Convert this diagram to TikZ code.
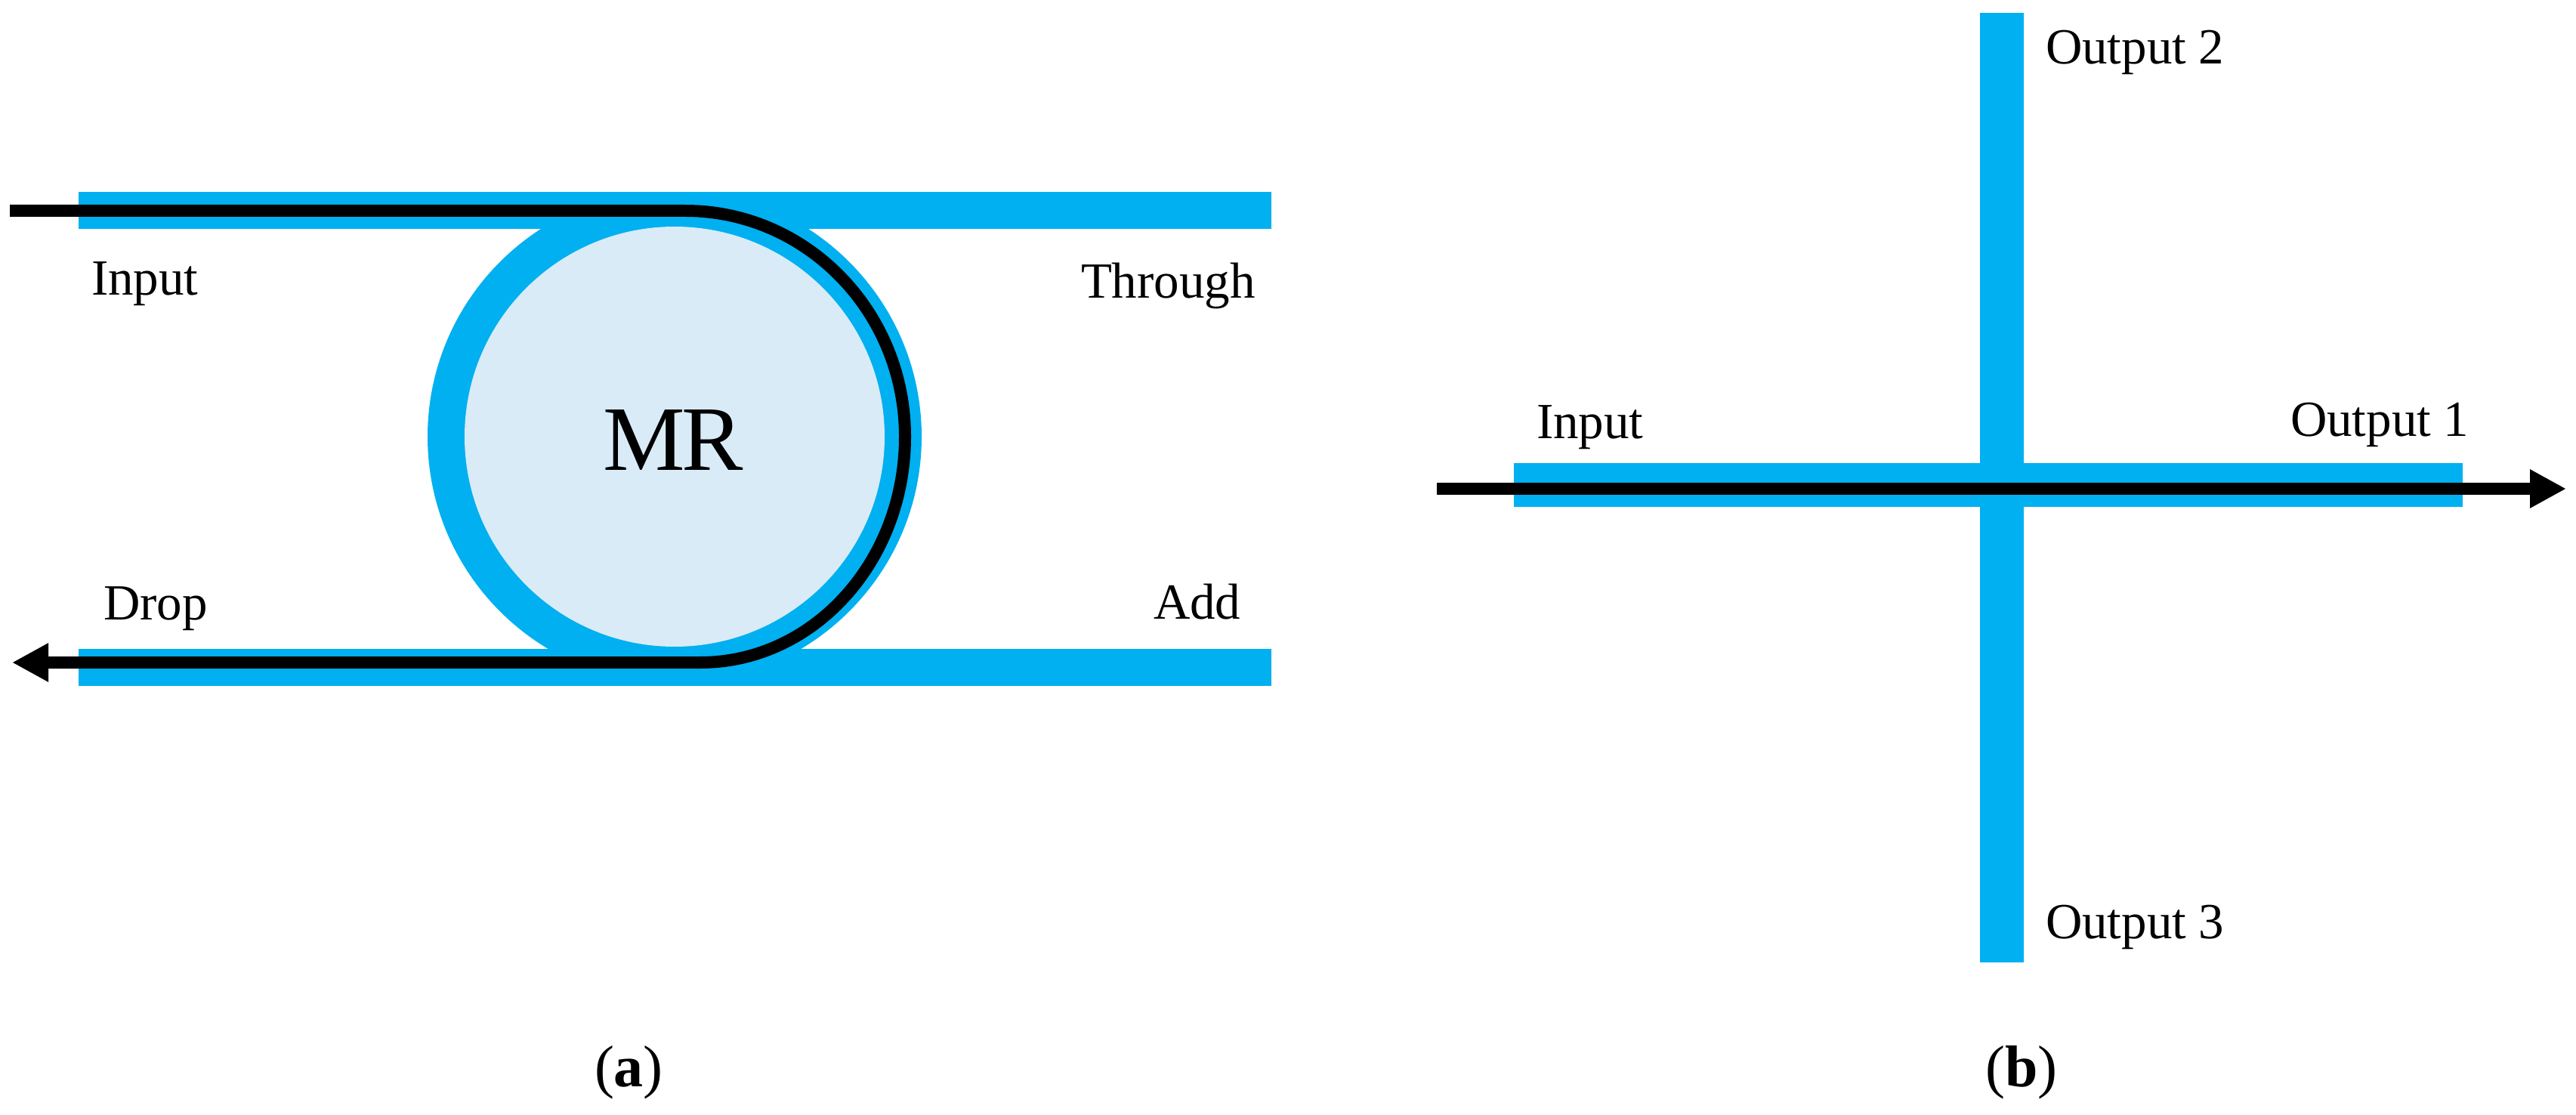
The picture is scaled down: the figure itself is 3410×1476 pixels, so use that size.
\documentclass[tikz,border=0pt]{standalone}
\usepackage{fontspec}
\setmainfont{Liberation Serif}
\usetikzlibrary{arrows.meta}
\definecolor{wg}{HTML}{00B0F0}
\definecolor{ringfill}{HTML}{DAEBF8}
\tikzset{
  x=0.5pt,y=-0.5pt,
  wgshape/.style={fill=wg,draw=none},
  lightpath/.style={draw=black,line width=8pt,line join=round},
  arrowpath/.style={lightpath,-{Triangle[length=24pt,width=24pt]}},
  lab/.style={anchor=base west,inner sep=0pt,outer sep=0pt,font=\fontsize{33.5}{33.5}\selectfont},
  captionlab/.style={anchor=base west,inner sep=0pt,outer sep=0pt,font=\fontsize{39}{39}\selectfont},
}
\begin{document}
\begin{tikzpicture}
\useasboundingbox (0,0) rectangle (3410,1476);
% panel a
\fill[wgshape] (104,254) rectangle (1683,303);
\fill[wgshape] (104,859) rectangle (1683,908);
\begin{scope}
\clip (0,260) rectangle (3410,900);
\fill[wgshape] (893,578) circle [radius=163.5pt];
\end{scope}
\fill[ringfill] (893,578) circle [radius=139pt];
\coordinate (aStart) at (13,279);
\coordinate (aBendTop) at (907,279);
\coordinate (aRight) at (1198,578);
\coordinate (aBendBot) at (927,877);
\coordinate (aEnd) at (16,877);
\draw[arrowpath] (aStart) -- (aBendTop) .. controls (1068,279) and (1198,413) .. (aRight) .. controls (1198,743) and (1077,877) .. (aBendBot) -- (aEnd);
\node[lab] (aInput) at (121,391) {Input};
\node[lab] (aThrough) at (1431,394) {Through};
\node[lab] (aDrop) at (137,820) {Drop};
\node[lab] (aAdd) at (1527,819) {Add};
\node[anchor=base,inner sep=0pt,font=\fontsize{61}{61}\selectfont] (mr) at (891,622) {M\kern-2ptR};
% panel b
\fill[wgshape] (2621,17) rectangle (2679,1274);
\fill[wgshape] (2004,613) rectangle (3260,671);
\coordinate (bStart) at (1902,647);
\coordinate (bEnd) at (3397,647);
\draw[arrowpath] (bStart) -- (bEnd);
\node[lab] (bInput) at (2034,580) {Input};
\node[lab] (bOut1) at (3032,577) {Output 1};
\node[lab] (bOut2) at (2708,85) {Output 2};
\node[lab] (bOut3) at (2708,1242) {Output 3};
% captions
\node[captionlab] (capA) at (787,1438) {(\textbf{a})};
\node[captionlab] (capB) at (2628,1438) {(\textbf{b})};
\end{tikzpicture}
\end{document}
